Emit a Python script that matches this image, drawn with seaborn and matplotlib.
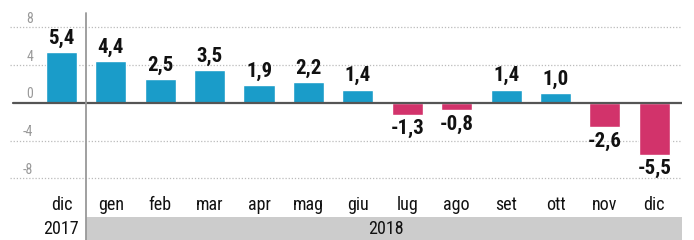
import pandas as pd
import matplotlib.pyplot as plt
import seaborn as sns
from matplotlib.patches import Rectangle
import matplotlib.transforms as mtransforms

# dati: variazione % mensile
months = ['dic', 'gen', 'feb', 'mar', 'apr', 'mag', 'giu', 'lug', 'ago', 'set', 'ott', 'nov', 'dic']
years = ['2017'] + ['2018'] * 12
values = [5.4, 4.4, 2.5, 3.5, 1.9, 2.2, 1.4, -1.3, -0.8, 1.4, 1.0, -2.6, -5.5]
yticks = [-8, -4, 0, 4, 8]

BLUE = '#1a9cc9'
PINK = '#d2336b'

sns.set_style('white')
plt.rcParams['font.family'] = ['Roboto Condensed', 'DejaVu Sans']

df = pd.DataFrame({
    'period': [f'{m} {y}' for m, y in zip(months, years)],
    'value': values,
})
df['segno'] = ['pos' if v >= 0 else 'neg' for v in df['value']]

fig = plt.figure(figsize=(6.94, 2.40), dpi=100)
ax = fig.add_axes([10 / 694, 1 - 185 / 240, 672 / 694, 173 / 240])

sns.barplot(data=df, x='period', y='value', hue='segno',
            palette={'pos': BLUE, 'neg': PINK}, dodge=False,
            width=0.63, legend=False, ax=ax, saturation=1)

ax.set_xlim(-1.04, 12.56)
ax.set_ylim(-8.7, 9.6)

# griglia tratteggiata
for t in yticks:
    if t != 0:
        ax.axhline(t, color='#bbbbbb', lw=0.9, ls=(0, (1, 1.5)), zorder=0)
ax.axhline(0, color='#555555', lw=1.6, xmin=0.005, zorder=3)

# etichette asse y sopra le linee
ax.set_yticks([])
ytrans = mtransforms.blended_transform_factory(ax.transAxes, ax.transData)
ytrans = ytrans + mtransforms.ScaledTranslation(0, 1 / 72, fig.dpi_scale_trans)
for t in yticks:
    ax.text(0.0345, t, str(t), transform=ytrans, ha='right', va='bottom',
            fontsize=10, color='#999999')

ax.set_xticks(range(len(months)))
ax.set_xticklabels(months)
ax.tick_params(axis='x', length=0, pad=8, labelsize=13, labelcolor='#111111')
ax.set_xlabel('')
ax.set_ylabel('')
for s in ax.spines.values():
    s.set_visible(False)

# etichette valori
for c in ax.containers:
    labs = [f'{p.get_height():.1f}'.replace('.', ',') if p.get_height() != 0 else ''
            for p in c.patches]
    ax.bar_label(c, labels=labs, padding=3, fontsize=15, fontweight='bold', color='#111111')

# banda anno
trans = mtransforms.blended_transform_factory(ax.transData, ax.transAxes)
ax.add_patch(Rectangle((0.5, -0.318), 12.56 - 0.5, 0.133, transform=trans,
                       facecolor='#cccccc', edgecolor='none', clip_on=False, zorder=0))
ax.text(0, -0.255, years[0], transform=trans, ha='center', va='center', fontsize=13, color='#111111')
ax.text(6.57, -0.255, years[1], transform=trans, ha='center', va='center', fontsize=13, color='#111111')

# separatore verticale
ax.plot([0.5, 0.5], [-0.33, 0.995], transform=trans, color='#999999', lw=1.3,
        clip_on=False, zorder=4)

fig.savefig('out.png', dpi=100)
